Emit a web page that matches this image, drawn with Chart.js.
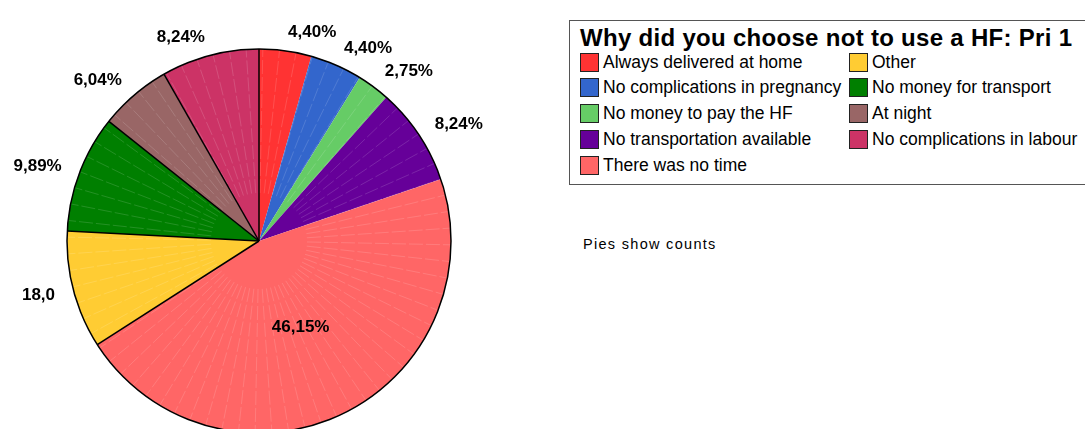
<!DOCTYPE html>
<html>
<head>
<meta charset="utf-8">
<script src="https://cdn.jsdelivr.net/npm/chart.js@4.4.1/dist/chart.umd.min.js"></script>
<style>
  html, body { margin: 0; padding: 0; background: #fff; width: 1085px; height: 429px; overflow: hidden;
    font-family: "Liberation Sans", Arial, sans-serif; }
  #pieWrap { position: absolute; left: 0; top: 0; width: 520px; height: 450px; }
  #legend { position: absolute; left: 569px; top: 20px; width: 530px; height: 165px;
    border: 1px solid #555; box-sizing: border-box; background: #fff; }
  #legend .title { position: absolute; left: 10px; top: 3px; font-weight: bold; font-size: 24px;
    letter-spacing: 0.3px; color: #000; white-space: nowrap; }
  #legend .item { position: absolute; display: flex; align-items: center; height: 20px;
    font-size: 17.5px; color: #000; white-space: nowrap; }
  #legend .sw { width: 19px; height: 19px; border: 1.5px solid #222; box-sizing: border-box; margin-right: 4px; }
  #note { position: absolute; left: 583px; top: 236px; font-size: 14.5px; letter-spacing: 1.3px; color: #000; }
</style>
</head>
<body>
<div id="pieWrap"><canvas id="pie"></canvas></div>
<div id="legend"><div class="title">Why did you choose not to use a HF: Pri 1</div></div>
<div id="note">Pies show counts</div>
<script>
// Reasons for not using a health facility, first priority (counts)
const categories = [
  'Always delivered at home',
  'No complications in pregnancy',
  'No money to pay the HF',
  'No transportation available',
  'There was no time',
  'Other',
  'No money for transport',
  'At night',
  'No complications in labour'
];
const counts = [8, 8, 5, 15, 84, 18, 18, 11, 15];
const colors = ['#FF3333', '#3366CC', '#66CC66', '#660099', '#FF6666', '#FFCC33', '#007F00', '#996666', '#CC3366'];
// 'pct' prints the share of the total, 'count' prints the raw count
const labelKinds = ['pct', 'pct', 'pct', 'pct', 'pct', 'count', 'pct', 'pct', 'pct'];

const total = counts.reduce((a, b) => a + b, 0);
function labelText(i) {
  if (labelKinds[i] === 'count') return counts[i].toFixed(1).replace('.', ',');
  return (counts[i] / total * 100).toFixed(2).replace('.', ',') + '%';
}

// Legend: two columns, filled top to bottom
const legend = document.getElementById('legend');
const rows = 5;
categories.forEach((name, i) => {
  const col = Math.floor(i / rows), row = i % rows;
  const item = document.createElement('div');
  item.className = 'item';
  item.style.left = (10 + col * 269) + 'px';
  item.style.top = (31 + row * 25.75) + 'px';
  const sw = document.createElement('span');
  sw.className = 'sw';
  sw.style.background = colors[i];
  const txt = document.createElement('span');
  txt.textContent = name;
  item.appendChild(sw);
  item.appendChild(txt);
  legend.appendChild(item);
});

// Outline, seams and value labels drawn over the slices
const pieDecor = {
  id: 'pieDecor',
  afterDatasetsDraw(chart) {
    const ctx = chart.ctx;
    const arcs = chart.getDatasetMeta(0).data;
    const p = arcs[0].getProps(['x', 'y', 'outerRadius'], true);
    const cx = p.x, cy = p.y, R = p.outerRadius;
    ctx.save();

    // faint radial seams
    ctx.strokeStyle = 'rgba(255,255,255,0.18)';
    ctx.lineWidth = 0.8;
    ctx.setLineDash([14, 3]);
    const seams = 72;
    for (let k = 0; k < seams; k++) {
      const a = -Math.PI / 2 + k * 2 * Math.PI / seams + 0.02;
      ctx.beginPath();
      ctx.moveTo(cx + Math.cos(a) * R * 0.25, cy + Math.sin(a) * R * 0.25);
      ctx.lineTo(cx + Math.cos(a) * R, cy + Math.sin(a) * R);
      ctx.stroke();
    }
    ctx.setLineDash([]);

    // dividers (left half only) and the outer rim
    ctx.strokeStyle = '#000';
    ctx.lineWidth = 1.5;
    arcs.forEach(arc => {
      const a = arc.startAngle;
      let deg = ((a + Math.PI / 2) * 180 / Math.PI) % 360;
      if (deg < 0) deg += 360;
      if (deg < 0.01 || deg >= 180) {
        ctx.beginPath();
        ctx.moveTo(cx, cy);
        ctx.lineTo(cx + Math.cos(a) * R, cy + Math.sin(a) * R);
        ctx.stroke();
      }
    });
    ctx.beginPath();
    ctx.arc(cx, cy, R, 0, Math.PI * 2);
    ctx.stroke();

    // value labels
    ctx.fillStyle = '#000';
    ctx.font = 'bold 17px "Liberation Sans", Arial, sans-serif';
    ctx.textBaseline = 'middle';
    arcs.forEach((arc, i) => {
      const mid = (arc.startAngle + arc.endAngle) / 2;
      const share = counts[i] / total;
      const t = labelText(i);
      if (share > 0.25) {
        ctx.textAlign = 'center';
        ctx.fillText(t, cx + Math.cos(mid) * R * 0.5, cy + Math.sin(mid) * R * 0.5);
      } else {
        const r = R + 19;
        ctx.textAlign = Math.cos(mid) >= 0 ? 'left' : 'right';
        ctx.fillText(t, cx + Math.cos(mid) * r, cy + Math.sin(mid) * r);
      }
    });
    ctx.restore();
  }
};

new Chart(document.getElementById('pie'), {
  type: 'pie',
  data: {
    labels: categories,
    datasets: [{
      data: counts,
      backgroundColor: colors,
      borderWidth: 0,
      hoverOffset: 0,
      offset: 0
    }]
  },
  options: {
    responsive: true,
    maintainAspectRatio: false,
    animation: false,
    events: [],
    layout: { padding: { left: 67, top: 49, right: 69, bottom: 17 } },
    plugins: { legend: { display: false }, tooltip: { enabled: false } }
  },
  plugins: [pieDecor]
});
</script>
</body>
</html>
